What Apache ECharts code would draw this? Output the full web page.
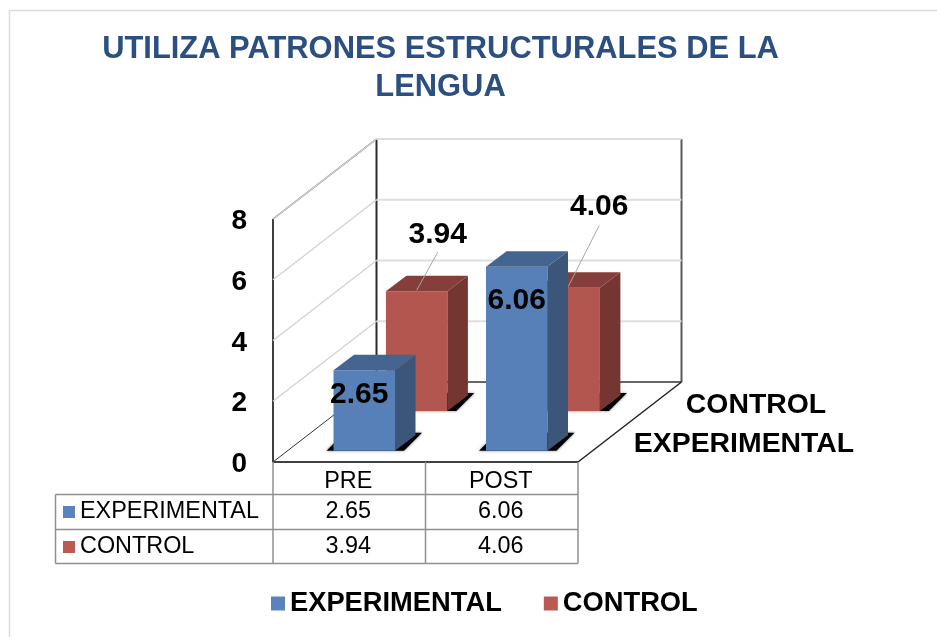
<!DOCTYPE html>
<html>
<head>
<meta charset="utf-8">
<style>html,body{margin:0;padding:0;background:#fff}#c{width:937px;height:637px}</style>
<script src="https://cdn.jsdelivr.net/npm/echarts@6/dist/echarts.min.js"></script>
</head>
<body>
<div id="c"></div>
<script>
var titleLines = ['UTILIZA PATRONES ESTRUCTURALES DE LA', 'LENGUA'];
var categories = ['PRE', 'POST'];
var experimental = [2.65, 6.06];
var control = [3.94, 4.06];
var yTicks = [0, 2, 4, 6, 8];
var nameExp = 'EXPERIMENTAL';
var nameCtl = 'CONTROL';

var FONT = '"Liberation Sans", Arial, sans-serif';
var DEPTH = { x: 103.5, y: -80 };
var BAR_W = 61.5, BAR_DX = 20.5, BAR_DY = -15.5;
var styles = {
  exp: { front: '#5780b9', top: '#44658f', side: '#3b5679', legend: '#5a83be',
         ox: 15, oy: -11.3,
         labels: [{ x: -5, y: 25 }, { x: 0, y: 34 }], leaders: [null, null] },
  ctl: { front: '#b2564f', top: '#863e3a', side: '#753632', legend: '#b95a53',
         ox: 67.4, oy: -51,
         labels: [{ x: 21, y: -57 }, { x: 30, y: -81 }],
         leaders: [[21, -39, 0, -1], [30, -62, -1, -1]] }
};

function poly(points, fill, extra) {
  var st = { fill: fill };
  if (extra) for (var k in extra) st[k] = extra[k];
  return { type: 'polygon', shape: { points: points }, style: st };
}
function seg(x1, y1, x2, y2, color, width) {
  return { type: 'line', shape: { x1: x1, y1: y1, x2: x2, y2: y2 }, style: { stroke: color, lineWidth: width } };
}
function txt(s, x, y, font, align, fill) {
  return { type: 'text', style: { text: s, x: x, y: y, font: font, align: align || 'center', verticalAlign: 'middle', fill: fill || '#000' } };
}

function renderBar(st) {
  return function (params, api) {
    var i = api.value(0), v = api.value(1);
    var base = api.coord([i, 0]), head = api.coord([i, v]);
    var cx = base[0] + st.ox;
    var x0 = cx - BAR_W / 2, x1 = cx + BAR_W / 2;
    var yb = base[1] + st.oy, yt = head[1] + st.oy;
    var ch = [];
    ch.push(poly([[x0 - 7, yb], [x1 + 9, yb], [x1 + 27, yb - 18], [x0 + 11, yb - 18]], '#000', { shadowBlur: 3, shadowColor: 'rgba(0,0,0,0.5)' }));
    ch.push(poly([[x0, yb], [x1, yb], [x1, yt], [x0, yt]], st.front));
    ch.push(poly([[x1, yb], [x1 + BAR_DX, yb + BAR_DY], [x1 + BAR_DX, yt + BAR_DY], [x1, yt]], st.side));
    ch.push(poly([[x0, yt], [x1, yt], [x1 + BAR_DX, yt + BAR_DY], [x0 + BAR_DX, yt + BAR_DY]], st.top));
    var lead = st.leaders[i];
    if (lead) ch.push(seg(cx + lead[0], yt + lead[1], cx + lead[2], yt + lead[3], '#a6a6a6', 1));
    var lab = st.labels[i];
    ch.push(txt(v.toFixed(2), cx + lab.x, yt + lab.y, 'bold 30px ' + FONT));
    return { type: 'group', children: ch };
  };
}

function renderWalls(params, api) {
  var v = api.value(0);
  var cs = params.coordSys;
  var xl = cs.x, xr = cs.x + cs.width;
  var y = api.coord([0, v])[1];
  var ch = [];
  if (v === yTicks[0]) {
    var yTop = api.coord([0, yTicks[yTicks.length - 1]])[1];
    ch.push(seg(xl + DEPTH.x, yTop + DEPTH.y, xl + DEPTH.x, y + DEPTH.y, '#2b2b2b', 2));
    ch.push(seg(xr + DEPTH.x, yTop + DEPTH.y, xr + DEPTH.x, y + DEPTH.y, '#595959', 2));
    ch.push(seg(xl, yTop, xl + DEPTH.x, yTop + DEPTH.y, '#404040', 1.5));
    ch.push(seg(xl + DEPTH.x, y + DEPTH.y, xr + DEPTH.x, y + DEPTH.y, '#333', 1.5));
    ch.push(seg(xl, y, xl + DEPTH.x, y + DEPTH.y, '#333', 1));
    ch.push(seg(xr, y, xr + DEPTH.x, y + DEPTH.y, '#222', 1.5));
    ch.push(seg(xl, yTop, xl, y, '#404040', 2));
    ch.push(seg(xl, y, xr, y, '#404040', 2));
  } else {
    ch.push(seg(xl, y, xl + DEPTH.x, y + DEPTH.y, '#d4d4d4', 1.5));
    ch.push(seg(xl + DEPTH.x, y + DEPTH.y, xr + DEPTH.x, y + DEPTH.y, '#dedede', 2));
  }
  return { type: 'group', children: ch };
}

function renderTable(params, api) {
  var cs = params.coordSys;
  var xl = cs.x, xr = cs.x + cs.width, xm = (xl + xr) / 2, yAxis0 = cs.y + cs.height;
  var tableLeft = 55.5, r1 = 494.5, r2 = 529.5, r3 = 563.5;
  var c = '#8f8f8f', w = 1.5, f = '23.4px ' + FONT;
  var ch = [
    seg(xl, yAxis0, xl, r3, c, w), seg(xm, yAxis0, xm, r3, c, w), seg(xr, yAxis0, xr, r3, c, w),
    seg(tableLeft, r1, tableLeft, r3, c, w),
    seg(tableLeft, r1, xr, r1, c, w), seg(tableLeft, r2, xr, r2, c, w), seg(tableLeft, r3, xr, r3, c, w),
    { type: 'rect', shape: { x: 63, y: 506, width: 12, height: 12 }, style: { fill: styles.exp.legend } },
    { type: 'rect', shape: { x: 63, y: 541, width: 12, height: 12 }, style: { fill: styles.ctl.legend } },
    txt(nameExp, 80, 512, f, 'left'),
    txt(nameCtl, 80, 546.5, f, 'left')
  ];
  categories.forEach(function (name, i) {
    var cx = api.coord([i, 0])[0] - 1;
    ch.push(txt(name, cx, 482, f));
    ch.push(txt(experimental[i].toFixed(2), cx, 512, f));
    ch.push(txt(control[i].toFixed(2), cx, 546.5, f));
  });
  return { type: 'group', children: ch };
}

var chart = echarts.init(document.getElementById('c'), null, { renderer: 'canvas' });
chart.setOption({
  animation: false,
  backgroundColor: '#fff',
  title: {
    text: titleLines.join('\n'),
    left: 435.5, top: 25, textAlign: 'center',
    textStyle: { fontFamily: FONT, fontWeight: 'bold', fontSize: 30.9, lineHeight: 38, color: '#2b4f80' }
  },
  legend: {
    data: [nameExp, nameCtl],
    left: 266, top: 585,
    itemWidth: 14, itemHeight: 14, itemGap: 42,
    icon: 'rect',
    textStyle: { fontFamily: FONT, fontWeight: 'bold', fontSize: 27.3, color: '#000' },
    selectedMode: false
  },
  grid: { left: 273, right: 359, top: 219, bottom: 175, containLabel: false },
  xAxis: { type: 'category', data: categories, show: false },
  yAxis: {
    type: 'value', min: 0, max: 8, interval: 2,
    axisLine: { show: false }, axisTick: { show: false }, splitLine: { show: false },
    axisLabel: {
      margin: 26, formatter: '{t|{value}}',
      rich: { t: { fontFamily: FONT, fontWeight: 'bold', fontSize: 28, color: '#000', padding: [5, 0, 0, 0] } }
    }
  },
  graphic: [
    { type: 'polyline', silent: true, z: -1, shape: { points: [[9.5, 637], [9.5, 10.5], [937, 10.5]] }, style: { fill: 'none', stroke: '#dcdcdc', lineWidth: 1.5 } },
    { type: 'text', silent: true, style: { text: nameCtl, x: 756, y: 405, font: 'bold 28.4px ' + FONT, align: 'center', verticalAlign: 'middle', fill: '#000' } },
    { type: 'text', silent: true, style: { text: nameExp, x: 744, y: 444, font: 'bold 28.4px ' + FONT, align: 'center', verticalAlign: 'middle', fill: '#000' } }
  ],
  series: [
    { type: 'custom', name: 'walls', silent: true, z: 1, clip: false, data: yTicks.map(function (v) { return [v]; }), encode: { y: 0 }, renderItem: renderWalls },
    { type: 'custom', name: 'tabla', silent: true, z: 2, clip: false, data: [[0, 0]], renderItem: renderTable },
    { type: 'custom', name: nameCtl, z: 3, clip: false, itemStyle: { color: styles.ctl.legend },
      data: control.map(function (v, i) { return [i, v]; }), encode: { x: 0, y: 1 }, renderItem: renderBar(styles.ctl) },
    { type: 'custom', name: nameExp, z: 4, clip: false, itemStyle: { color: styles.exp.legend },
      data: experimental.map(function (v, i) { return [i, v]; }), encode: { x: 0, y: 1 }, renderItem: renderBar(styles.exp) }
  ]
});
</script>
</body>
</html>
